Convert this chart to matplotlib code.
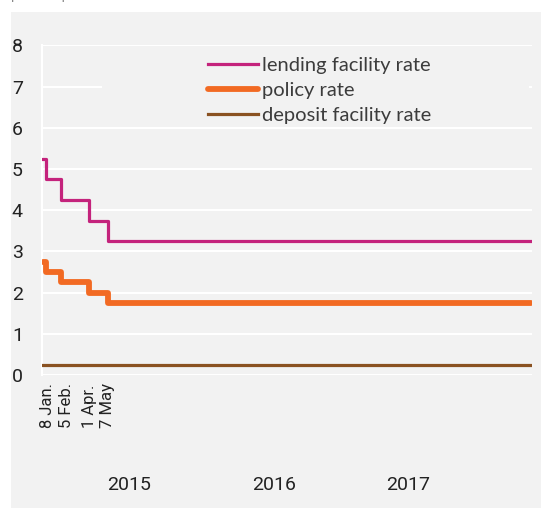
import matplotlib
matplotlib.use('Agg')
import matplotlib.pyplot as plt
from matplotlib.patches import Rectangle
import pandas as pd

# step dates (rate valid from this date on), last entry = end of series
dates = ['2015-01-02', '2015-01-08', '2015-02-05', '2015-04-01', '2015-05-07', '2017-07-24']
lending = [5.25, 4.75, 4.25, 3.75, 3.25, 3.25]
policy = [2.75, 2.5, 2.25, 2.0, 1.75, 1.75]
deposit = [0.25, 0.25, 0.25, 0.25, 0.25, 0.25]

cut_labels = ['8 Jan.', '5 Feb.', '1 Apr.', '7 May']
cut_label_dates = ['2015-01-10', '2015-02-17', '2015-04-01', '2015-05-06']
year_labels = ['2015', '2016', '2017']
year_label_dates = ['2015-06-15', '2016-03-19', '2016-12-01']

c_lend = '#c4237c'
c_pol = '#f26a23'
c_dep = '#8a5222'
bg = '#f2f2f2'
txt = '#3c3c3c'

narrow = ['Liberation Sans Narrow', 'Roboto', 'DejaVu Sans']
plain = ['Lato', 'DejaVu Sans']

fig = plt.figure(figsize=(5.41, 5.08), dpi=100)
fig.patch.set_facecolor('white')
fig.patches.append(Rectangle((11 / 541, 0), 1, 496 / 508, transform=fig.transFigure,
                             facecolor=bg, edgecolor='none', zorder=-10))
# title sits mostly above the crop, as in the source image
fig.text(0.02, 1.0, 'percent per annum', color='#888888', fontsize=10,
         family=plain, va='baseline')

ax = fig.add_axes([42.3 / 541, 1 - 375 / 508, (532 - 42.3) / 541, (375 - 45.4) / 508])
ax.set_facecolor(bg)

x = pd.to_datetime(dates)
ax.plot(x, lending, drawstyle='steps-post', color=c_lend, lw=2.3, zorder=3,
        label='lending facility rate')
ax.plot(x, policy, drawstyle='steps-post', color=c_pol, lw=4.2, zorder=3,
        solid_capstyle='round', label='policy rate')
ax.plot(x, deposit, drawstyle='steps-post', color=c_dep, lw=2.3, zorder=3,
        label='deposit facility rate')

ax.set_xlim(pd.Timestamp('2015-01-01'), pd.Timestamp('2017-07-25'))
ax.set_ylim(0, 8)
ax.set_yticks(range(0, 9))
ax.set_axisbelow(True)
ax.grid(axis='y', color='white', lw=1.5)
ax.set_xticks([])
for s in ['top', 'right', 'bottom']:
    ax.spines[s].set_visible(False)
ax.spines['left'].set_color('white')
ax.spines['left'].set_linewidth(1.5)
ax.tick_params(axis='y', length=0, pad=14, labelsize=14, labelcolor='#222222')
for lb in ax.get_yticklabels():
    lb.set_family(narrow)

# legend background hides the grid line behind it
ax.add_patch(Rectangle((0.122, 0.775), 0.872, 0.2, transform=ax.transAxes,
                       facecolor=bg, edgecolor='none', zorder=1))
leg = ax.legend(loc='upper left', bbox_to_anchor=(0.338, 0.966), frameon=False,
                borderpad=0, borderaxespad=0, handlelength=2.5, handletextpad=0.2,
                labelspacing=0.39, prop={'family': plain, 'size': 14.5})
for t in leg.get_texts():
    t.set_color(txt)

tr = ax.get_xaxis_transform()
for lab, d in zip(cut_labels, cut_label_dates):
    ax.text(pd.Timestamp(d), -0.162, lab, transform=tr, rotation=90, ha='center',
            va='bottom', fontsize=12, family=narrow, color='#222222')
for lab, d in zip(year_labels, year_label_dates):
    ax.text(pd.Timestamp(d), -0.335, lab, transform=tr, ha='center', va='center',
            fontsize=14, family=narrow, color='#222222')

fig.savefig('out.png', dpi=100)
